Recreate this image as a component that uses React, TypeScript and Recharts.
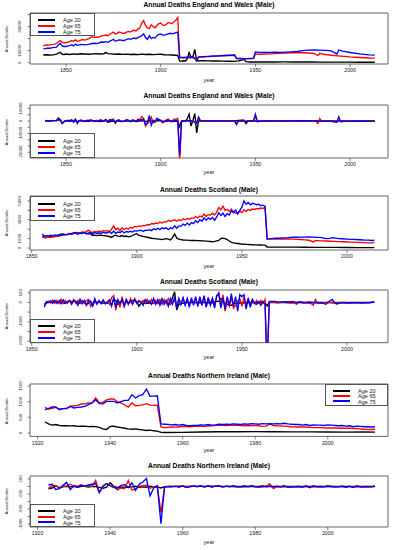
import { LineChart, Line, XAxis, YAxis, ReferenceArea } from "recharts";

type Pt = [number, number];

const FONT = '"Liberation Sans", Arial, Helvetica, sans-serif';
const AGES = ["Age 20", "Age 65", "Age 75"];
const COLORS = ["#000000", "#ff0000", "#0000ff"];

// ---- England and Wales: annual deaths ----
const ewAge20: Pt[] = [
  [1838, 6400], [1840, 6600], [1842, 6300], [1844, 6700], [1845, 7200], [1846, 8000], [1847, 8700], [1848, 7000],
  [1849, 6800], [1850, 7200], [1852, 6800], [1854, 7300], [1856, 7000], [1858, 7400], [1860, 7200], [1862, 7000],
  [1864, 7300], [1866, 7600], [1868, 7200], [1870, 7400], [1871, 8600], [1872, 7600], [1874, 7300], [1876, 7000],
  [1878, 7200], [1880, 6900], [1882, 7100], [1884, 6800], [1886, 7000], [1888, 6700], [1890, 7100], [1892, 6800],
  [1894, 7000], [1896, 6700], [1898, 6900], [1900, 7000], [1902, 6600], [1904, 6500], [1906, 6400], [1908, 6200],
  [1909, 6000], [1910, 1400], [1911, 1300], [1912, 1600], [1913, 1400], [1914, 3000], [1915, 8500], [1916, 4500],
  [1917, 5000], [1918, 11000], [1919, 1500], [1920, 1700], [1922, 1600], [1925, 1500], [1928, 1400], [1930, 1500],
  [1933, 1300], [1936, 1200], [1939, 1100], [1941, 1500], [1943, 2200], [1944, 2800], [1945, 800], [1947, 600],
  [1950, 600], [1955, 550], [1960, 600], [1965, 650], [1970, 600], [1975, 550], [1980, 550], [1985, 500],
  [1990, 450], [1995, 450], [2000, 400], [2005, 400], [2010, 350], [2013, 350],
];
const ewAge65: Pt[] = [
  [1838, 14000], [1839, 14500], [1840, 14800], [1841, 14600], [1842, 15000], [1843, 15200], [1844, 15500],
  [1845, 16000], [1846, 17500], [1847, 18500], [1848, 17000], [1849, 16500], [1850, 16800], [1851, 17200],
  [1852, 17500], [1853, 18500], [1854, 17800], [1855, 19000], [1856, 17800], [1857, 18200], [1858, 19000],
  [1859, 19200], [1860, 18800], [1861, 19500], [1862, 20000], [1863, 21000], [1864, 21500], [1865, 21000],
  [1866, 21500], [1867, 21000], [1868, 22000], [1869, 22500], [1870, 22500], [1871, 23000], [1872, 22500],
  [1873, 23500], [1874, 24500], [1875, 25500], [1876, 24000], [1877, 24500], [1878, 25500], [1879, 25000],
  [1880, 24500], [1881, 24500], [1882, 25500], [1883, 26000], [1884, 25500], [1885, 26500], [1886, 27000],
  [1887, 26500], [1888, 28000], [1889, 29000], [1890, 33000], [1891, 35000], [1892, 31000], [1893, 29000],
  [1894, 28500], [1895, 31500], [1896, 30000], [1897, 29000], [1898, 31000], [1899, 32500], [1900, 33000],
  [1901, 31500], [1902, 31000], [1903, 32000], [1904, 33500], [1905, 33000], [1906, 32500], [1907, 34000],
  [1908, 35500], [1909, 37500], [1910, 4200], [1912, 4000], [1914, 4100], [1916, 4300], [1918, 3800],
  [1919, 3200], [1920, 4600], [1922, 4700], [1925, 5000], [1928, 5300], [1930, 5500], [1933, 5700], [1936, 5900],
  [1939, 6200], [1940, 3400], [1942, 3300], [1945, 3200], [1948, 3400], [1949, 3500], [1950, 7300], [1952, 7000],
  [1955, 7100], [1958, 7300], [1960, 7500], [1963, 7800], [1966, 8000], [1969, 8300], [1972, 8400], [1975, 8300],
  [1978, 8100], [1981, 7700], [1983, 5800], [1984, 7800], [1986, 7000], [1990, 6200], [1995, 5500], [2000, 4800],
  [2005, 4300], [2010, 3900], [2013, 3800],
];
const ewAge75: Pt[] = [
  [1838, 11500], [1839, 11700], [1840, 12000], [1841, 12000], [1842, 12200], [1843, 12500], [1844, 12800],
  [1845, 13000], [1846, 15000], [1847, 16000], [1848, 14000], [1849, 13500], [1850, 13500], [1851, 14000],
  [1852, 14200], [1853, 15000], [1854, 14000], [1855, 15500], [1856, 14500], [1857, 14800], [1858, 15200],
  [1859, 15000], [1860, 14800], [1861, 15000], [1862, 15300], [1863, 15800], [1864, 16000], [1865, 16200],
  [1866, 16000], [1867, 16300], [1868, 16800], [1869, 17200], [1870, 17000], [1871, 17500], [1872, 17000],
  [1873, 17800], [1874, 18500], [1875, 19500], [1876, 18000], [1877, 18300], [1878, 19000], [1879, 18800],
  [1880, 18500], [1881, 18500], [1882, 19500], [1883, 20000], [1884, 19500], [1885, 20000], [1886, 20500],
  [1887, 20000], [1888, 21000], [1889, 21500], [1890, 22500], [1891, 24000], [1892, 21000], [1893, 19500],
  [1894, 22500], [1895, 20000], [1896, 21000], [1897, 20500], [1898, 22500], [1899, 23500], [1900, 24000],
  [1901, 23000], [1902, 23000], [1903, 23500], [1904, 24000], [1905, 24500], [1906, 24000], [1907, 24500],
  [1908, 25000], [1909, 25500], [1910, 4500], [1912, 4300], [1914, 4500], [1916, 4700], [1917, 4800],
  [1918, 3500], [1919, 1500], [1920, 4800], [1922, 5000], [1925, 5300], [1928, 5600], [1930, 5700], [1933, 6000],
  [1936, 6200], [1939, 6400], [1940, 3600], [1942, 3500], [1945, 3400], [1948, 3600], [1949, 3700], [1950, 9000],
  [1952, 8600], [1955, 8500], [1958, 8600], [1960, 8700], [1963, 8600], [1966, 8800], [1969, 9000], [1972, 9300],
  [1975, 10000], [1978, 10400], [1981, 10600], [1984, 10500], [1987, 10300], [1990, 9800], [1992, 8200],
  [1993, 7200], [1994, 10600], [1996, 9600], [2000, 8500], [2005, 7300], [2010, 6500], [2013, 6300],
];

// ---- England and Wales: year-on-year change ----
const ewDiff20: Pt[] = [
  [1839, 100], [1841, -200], [1843, 300], [1845, 500], [1846, 800], [1847, 700], [1848, -1700], [1849, -200],
  [1850, 400], [1852, -300], [1854, 400], [1856, -300], [1858, 300], [1860, -200], [1862, -200], [1864, 300],
  [1866, 300], [1868, -400], [1870, 200], [1871, 1200], [1872, -1000], [1874, -200], [1876, -300], [1878, 200],
  [1880, -300], [1882, 200], [1884, -300], [1886, 200], [1888, -300], [1890, 300], [1892, -300], [1894, 200],
  [1896, -300], [1898, 200], [1900, 100], [1902, -300], [1904, -100], [1906, -100], [1908, -200], [1909, -200],
  [1910, -4600], [1911, -100], [1912, 300], [1913, -200], [1914, 1600], [1915, 5500], [1916, -4000], [1917, 500],
  [1918, 6000], [1919, -9500], [1920, 200], [1922, -50], [1925, -30], [1928, -30], [1930, 50], [1933, -60],
  [1936, -30], [1939, -30], [1941, 400], [1943, 700], [1944, 600], [1945, -2000], [1946, -200], [1947, -100],
  [1950, 0], [1960, 20], [1970, -20], [1980, 0], [1990, -20], [2000, -10], [2013, 0],
];
const ewDiff65: Pt[] = [
  [1839, 500], [1840, 300], [1841, -200], [1842, 400], [1843, 200], [1844, 300], [1845, 500], [1846, 2500],
  [1847, 1000], [1848, -2000], [1849, -500], [1850, 300], [1851, 400], [1852, 300], [1853, 1000], [1854, -700],
  [1855, 1200], [1856, -1200], [1857, 400], [1858, 800], [1859, 200], [1860, -400], [1861, 700], [1862, 500],
  [1863, 1000], [1864, 500], [1865, -500], [1866, 500], [1867, -500], [1868, 1000], [1869, 500], [1870, 0],
  [1871, 500], [1872, -500], [1873, 1000], [1874, 1000], [1875, 1500], [1876, -1800], [1877, 500], [1878, 1000],
  [1879, -500], [1880, -500], [1881, 0], [1882, 1000], [1883, 500], [1884, -500], [1885, 1000], [1886, 500],
  [1887, -500], [1888, 1500], [1889, 1000], [1890, 3500], [1891, 2000], [1892, -4000], [1893, -2000], [1894, -500],
  [1895, 3000], [1896, -1500], [1897, -1000], [1898, 2000], [1899, 1500], [1900, 500], [1901, -1500], [1902, -500],
  [1903, 1000], [1904, 1500], [1905, -500], [1906, -500], [1907, 1500], [1908, 1500], [1909, 2000], [1910, -33300],
  [1911, -200], [1912, -100], [1913, 100], [1914, 100], [1915, 200], [1916, 100], [1917, -300], [1918, -500],
  [1919, -600], [1920, 1400], [1921, 100], [1923, 50], [1925, 100], [1927, 150], [1929, 100], [1931, 50],
  [1933, 100], [1935, 80], [1937, 100], [1939, 150], [1940, -1900], [1941, -100], [1943, -100], [1945, -50],
  [1947, 100], [1949, 100], [1950, 4000], [1951, -500], [1952, -200], [1954, -50], [1956, 50], [1958, 80],
  [1960, 100], [1962, 80], [1964, 60], [1966, 80], [1968, 100], [1970, 50], [1972, 30], [1974, -50], [1976, -80],
  [1978, -100], [1980, -150], [1982, -200], [1983, -2000], [1984, 2000], [1985, -500], [1986, -300], [1988, -200],
  [1990, -200], [1992, -150], [1994, -150], [1996, -120], [1998, -150], [2000, -100], [2002, -100], [2004, -80],
  [2006, -100], [2008, -80], [2010, -60], [2012, -40], [2013, -30],
];
const ewDiff75: Pt[] = [
  [1839, 200], [1840, 300], [1841, 0], [1842, 200], [1843, 300], [1844, 300], [1845, 200], [1846, 2000],
  [1847, 1000], [1848, -2000], [1849, -500], [1850, 0], [1851, 500], [1852, 200], [1853, 800], [1854, -1000],
  [1855, 1500], [1856, -2000], [1857, 300], [1858, 400], [1859, -200], [1860, -200], [1861, 200], [1862, 300],
  [1863, 500], [1864, 200], [1865, 200], [1866, -200], [1867, 300], [1868, 500], [1869, 400], [1870, -200],
  [1871, 500], [1872, -500], [1873, 800], [1874, 700], [1875, 1000], [1876, -1500], [1877, 300], [1878, 700],
  [1879, -200], [1880, -300], [1881, 0], [1882, 1000], [1883, 500], [1884, -500], [1885, 500], [1886, 500],
  [1887, -500], [1888, 1000], [1889, 500], [1890, 1000], [1891, 1500], [1892, -3000], [1893, -1500], [1894, 4500],
  [1895, -3500], [1896, 500], [1897, -500], [1898, 2000], [1899, 1000], [1900, 500], [1901, -1000], [1902, 0],
  [1903, 500], [1904, 500], [1905, 500], [1906, -500], [1907, 500], [1908, 500], [1909, 500], [1910, -27000],
  [1911, -200], [1912, -200], [1913, 200], [1914, 200], [1915, 200], [1916, 200], [1917, 100], [1918, -1300],
  [1919, -2000], [1920, 3300], [1921, 200], [1923, 100], [1925, 100], [1927, 150], [1929, 100], [1931, 100],
  [1933, 150], [1935, 100], [1937, 100], [1939, 100], [1940, -2800], [1941, -100], [1943, -50], [1945, -50],
  [1947, 100], [1949, 100], [1950, 5300], [1951, -400], [1952, -300], [1954, -50], [1956, 50], [1958, 50],
  [1960, 50], [1962, -50], [1964, 50], [1966, 100], [1968, 100], [1970, 100], [1972, 150], [1974, 300],
  [1976, 200], [1978, 100], [1980, 100], [1982, 0], [1984, -50], [1986, -100], [1988, -100], [1990, -200],
  [1992, -800], [1993, -1000], [1994, 3400], [1995, -600], [1996, -400], [1998, -300], [2000, -250], [2002, -250],
  [2004, -200], [2006, -200], [2008, -150], [2010, -100], [2012, -80], [2013, -50],
];

// ---- Scotland: annual deaths ----
const scAge20: Pt[] = [
  [1855, 1250], [1856, 1150], [1857, 1100], [1858, 1150], [1859, 1200], [1860, 1200], [1861, 1250], [1862, 1300],
  [1863, 1350], [1864, 1500], [1865, 1450], [1866, 1400], [1867, 1450], [1868, 1500], [1869, 1550], [1870, 1600],
  [1871, 1650], [1872, 1600], [1873, 1550], [1874, 1600], [1875, 1650], [1876, 1550], [1877, 1500], [1878, 1500],
  [1879, 1320], [1880, 1370], [1881, 1320], [1882, 1370], [1883, 1360], [1884, 1310], [1885, 1300], [1886, 1260],
  [1887, 1220], [1888, 1130], [1889, 1280], [1890, 1360], [1891, 1270], [1892, 1230], [1893, 1320], [1894, 1230],
  [1895, 1270], [1896, 1180], [1897, 1230], [1898, 1330], [1899, 1450], [1900, 1520], [1901, 1330], [1902, 1290],
  [1903, 1240], [1904, 1190], [1905, 1140], [1906, 1090], [1907, 1040], [1908, 990], [1909, 990], [1910, 950],
  [1911, 950], [1912, 900], [1913, 950], [1914, 1000], [1915, 950], [1916, 850], [1917, 1100], [1918, 1500],
  [1919, 1050], [1920, 950], [1921, 900], [1922, 850], [1923, 830], [1924, 830], [1925, 810], [1926, 800],
  [1927, 810], [1928, 800], [1929, 790], [1930, 770], [1931, 750], [1932, 750], [1933, 730], [1934, 710],
  [1935, 690], [1936, 670], [1937, 700], [1938, 750], [1939, 800], [1940, 1000], [1941, 1050], [1942, 1000],
  [1943, 900], [1944, 750], [1945, 600], [1946, 550], [1947, 500], [1948, 480], [1949, 450], [1950, 420],
  [1951, 400], [1952, 380], [1953, 370], [1954, 360], [1955, 350], [1956, 340], [1957, 330], [1958, 320],
  [1959, 320], [1960, 310], [1961, 300], [1962, 110], [1965, 100], [1970, 90], [1975, 90], [1980, 80], [1985, 70],
  [1990, 60], [1995, 60], [2000, 50], [2005, 45], [2010, 40], [2013, 40],
];
const scAge65: Pt[] = [
  [1855, 1200], [1856, 1080], [1857, 1100], [1858, 1150], [1859, 1120], [1860, 1250], [1861, 1200], [1862, 1300],
  [1863, 1250], [1864, 1400], [1865, 1350], [1866, 1450], [1867, 1400], [1868, 1500], [1869, 1450], [1870, 1600],
  [1871, 1550], [1872, 1650], [1873, 1600], [1874, 1700], [1875, 1650], [1876, 1750], [1877, 1900], [1878, 1700],
  [1879, 1650], [1880, 1750], [1881, 1700], [1882, 1800], [1883, 1750], [1884, 1850], [1885, 1800], [1886, 1850],
  [1887, 1750], [1888, 2000], [1889, 2350], [1890, 1950], [1891, 2100], [1892, 1850], [1893, 2150], [1894, 1950],
  [1895, 2100], [1896, 2000], [1897, 2200], [1898, 2100], [1899, 2300], [1900, 2250], [1901, 2350], [1902, 2300],
  [1903, 2400], [1904, 2350], [1905, 2500], [1906, 2450], [1907, 2600], [1908, 2550], [1909, 2650], [1910, 2600],
  [1911, 2750], [1912, 2650], [1913, 2800], [1914, 2750], [1915, 2950], [1916, 2850], [1917, 2900], [1918, 3000],
  [1919, 2850], [1920, 3000], [1921, 2900], [1922, 3100], [1923, 3000], [1924, 3150], [1925, 3050], [1926, 3200],
  [1927, 3150], [1928, 3350], [1929, 3200], [1930, 3400], [1931, 3300], [1932, 3600], [1933, 3350], [1934, 3550],
  [1935, 3500], [1936, 3700], [1937, 3500], [1938, 3800], [1939, 4300], [1940, 4050], [1941, 4450], [1942, 4000],
  [1943, 4100], [1944, 3900], [1945, 4150], [1946, 3850], [1947, 3700], [1948, 3750], [1949, 3950], [1950, 3750],
  [1951, 4050], [1952, 3900], [1953, 4100], [1954, 4000], [1955, 4150], [1956, 4100], [1957, 4200], [1958, 4150],
  [1959, 4250], [1960, 4200], [1961, 4350], [1962, 950], [1964, 960], [1966, 980], [1968, 950], [1970, 970],
  [1972, 960], [1974, 940], [1976, 920], [1978, 900], [1980, 860], [1982, 820], [1984, 650], [1985, 800],
  [1986, 790], [1988, 760], [1990, 740], [1992, 720], [1994, 700], [1996, 680], [1998, 660], [2000, 640],
  [2002, 620], [2004, 600], [2006, 590], [2008, 570], [2010, 550], [2012, 540], [2013, 580],
];
const scAge75: Pt[] = [
  [1855, 1500], [1856, 1250], [1857, 1300], [1858, 1280], [1859, 1350], [1860, 1300], [1861, 1400], [1862, 1350],
  [1863, 1420], [1864, 1350], [1865, 1480], [1866, 1420], [1867, 1450], [1868, 1550], [1869, 1450], [1870, 1550],
  [1871, 1600], [1872, 1450], [1873, 1620], [1874, 1550], [1875, 1650], [1876, 1500], [1877, 1600], [1878, 1650],
  [1879, 1450], [1880, 1650], [1881, 1550], [1882, 1620], [1883, 1550], [1884, 1680], [1885, 1600], [1886, 1620],
  [1887, 1750], [1888, 1550], [1889, 1800], [1890, 1550], [1891, 1700], [1892, 1650], [1893, 1800], [1894, 1600],
  [1895, 1750], [1896, 1700], [1897, 1780], [1898, 1700], [1899, 1850], [1900, 1800], [1901, 1850], [1902, 1900],
  [1903, 1750], [1904, 1900], [1905, 1880], [1906, 1950], [1907, 1850], [1908, 2050], [1909, 1950], [1910, 2100],
  [1911, 1950], [1912, 2150], [1913, 2050], [1914, 2150], [1915, 1950], [1916, 2150], [1917, 2050], [1918, 2350],
  [1919, 2100], [1920, 2350], [1921, 2300], [1922, 2550], [1923, 2400], [1924, 2650], [1925, 2450], [1926, 2700],
  [1927, 2600], [1928, 2900], [1929, 2700], [1930, 3000], [1931, 2850], [1932, 3200], [1933, 2950], [1934, 3200],
  [1935, 3050], [1936, 3250], [1937, 2950], [1938, 3300], [1939, 3750], [1940, 3450], [1941, 3700], [1942, 3350],
  [1943, 3650], [1944, 3500], [1945, 3950], [1946, 3750], [1947, 4050], [1948, 3600], [1949, 4000], [1950, 4350],
  [1951, 5000], [1952, 4650], [1953, 4850], [1954, 4600], [1955, 4750], [1956, 4700], [1957, 4600], [1958, 4650],
  [1959, 4500], [1960, 4550], [1961, 4450], [1962, 950], [1964, 1000], [1966, 1050], [1968, 1040], [1970, 1080],
  [1972, 1100], [1974, 1150], [1976, 1140], [1978, 1160], [1980, 1150], [1982, 1170], [1984, 1150], [1986, 1130],
  [1988, 1100], [1990, 1000], [1992, 1020], [1993, 1100], [1994, 1080], [1996, 1000], [1998, 980], [2000, 950],
  [2002, 920], [2004, 900], [2006, 880], [2008, 850], [2010, 830], [2012, 800], [2013, 820],
];

// ---- Scotland: year-on-year change ----
const scDiff20: Pt[] = [
  [1856, -100], [1857, -50], [1858, 50], [1859, 50], [1860, 0], [1861, 50], [1862, 50], [1863, 50], [1864, 150],
  [1865, -50], [1866, -50], [1867, 50], [1868, 50], [1869, 50], [1870, 50], [1871, 50], [1872, -50], [1873, -50],
  [1874, 50], [1875, 50], [1876, -100], [1877, -50], [1878, 50], [1879, -150], [1880, 50], [1881, -50], [1882, 50],
  [1883, 0], [1884, -50], [1885, 0], [1886, -50], [1887, -50], [1888, -100], [1889, 150], [1890, 100], [1891, -100],
  [1892, -50], [1893, 100], [1894, -100], [1895, 50], [1896, -100], [1897, 50], [1898, 100], [1899, 100],
  [1900, 50], [1901, -200], [1902, -50], [1903, -50], [1904, -50], [1905, -50], [1906, -50], [1907, -50],
  [1908, -50], [1909, 0], [1910, -50], [1911, 0], [1912, -50], [1913, 50], [1914, 50], [1915, -50], [1916, -100],
  [1917, 250], [1918, 550], [1919, -400], [1920, -100], [1921, -50], [1922, -50], [1923, -20], [1924, 0],
  [1925, -20], [1926, -10], [1927, 10], [1928, -10], [1929, -10], [1930, -20], [1931, -20], [1932, 0], [1933, -20],
  [1934, -20], [1935, -20], [1936, -20], [1937, 30], [1938, 50], [1939, 50], [1940, 200], [1941, 50], [1942, -50],
  [1943, -100], [1944, -150], [1945, -150], [1946, -50], [1947, -50], [1948, -20], [1949, -30], [1950, -30],
  [1951, -20], [1952, -20], [1953, -10], [1954, -10], [1955, -10], [1956, -10], [1957, -10], [1958, -10],
  [1959, 0], [1960, -10], [1961, -10], [1962, -180], [1963, -5], [1970, 5], [1980, -5], [1990, 0], [2000, -5],
  [2013, 0],
];
const scDiff65: Pt[] = [
  [1856, -120], [1857, 20], [1858, 50], [1859, -30], [1860, 130], [1861, -50], [1862, 100], [1863, -50],
  [1864, 150], [1865, -50], [1866, 100], [1867, -50], [1868, 100], [1869, -50], [1870, 150], [1871, -50],
  [1872, 100], [1873, -50], [1874, 100], [1875, -50], [1876, 100], [1877, 150], [1878, -200], [1879, -50],
  [1880, 100], [1881, -50], [1882, 100], [1883, -50], [1884, 100], [1885, -50], [1886, 50], [1887, -100],
  [1888, 250], [1889, 350], [1890, -400], [1891, 150], [1892, -250], [1893, 300], [1894, -200], [1895, 150],
  [1896, -100], [1897, 200], [1898, -100], [1899, 200], [1900, -50], [1901, 100], [1902, -50], [1903, 100],
  [1904, -50], [1905, 150], [1906, -50], [1907, 150], [1908, -50], [1909, 100], [1910, -50], [1911, 150],
  [1912, -100], [1913, 150], [1914, -50], [1915, 200], [1916, -100], [1917, 50], [1918, 100], [1919, -150],
  [1920, 150], [1921, -100], [1922, 200], [1923, -100], [1924, 150], [1925, -100], [1926, 150], [1927, -50],
  [1928, 200], [1929, -150], [1930, 200], [1931, -100], [1932, 300], [1933, -250], [1934, 200], [1935, -50],
  [1936, 200], [1937, -200], [1938, 300], [1939, 500], [1940, -250], [1941, 400], [1942, -450], [1943, 100],
  [1944, -200], [1945, 250], [1946, -300], [1947, -150], [1948, 50], [1949, 200], [1950, -200], [1951, 300],
  [1952, -150], [1953, 200], [1954, -100], [1955, 150], [1956, -50], [1957, 100], [1958, -50], [1959, 100],
  [1960, -50], [1961, 150], [1962, -3400], [1963, 10], [1965, 20], [1967, -20], [1969, 30], [1971, -10],
  [1973, -30], [1975, -20], [1976, -100], [1977, 20], [1979, -30], [1981, -40], [1983, -60], [1984, -150],
  [1985, 150], [1986, -30], [1988, -40], [1990, -20], [1992, -20], [1994, -30], [1996, -20], [1998, -20],
  [2000, -20], [2002, -20], [2004, -10], [2006, -20], [2008, -10], [2010, -20], [2012, 30], [2013, 40],
];
const scDiff75: Pt[] = [
  [1856, -250], [1857, 50], [1858, -20], [1859, 70], [1860, -50], [1861, 100], [1862, -50], [1863, 70],
  [1864, -70], [1865, 130], [1866, -60], [1867, 30], [1868, 100], [1869, -100], [1870, 100], [1871, 50],
  [1872, -150], [1873, 170], [1874, -70], [1875, 100], [1876, -150], [1877, 100], [1878, 50], [1879, -200],
  [1880, 200], [1881, -100], [1882, 70], [1883, -70], [1884, 130], [1885, -80], [1886, 20], [1887, 130],
  [1888, -200], [1889, 250], [1890, -250], [1891, 150], [1892, -50], [1893, 150], [1894, -200], [1895, 150],
  [1896, -50], [1897, 80], [1898, -80], [1899, 150], [1900, -50], [1901, 50], [1902, 50], [1903, -150],
  [1904, 150], [1905, -20], [1906, 70], [1907, -100], [1908, 200], [1909, -100], [1910, 150], [1911, -150],
  [1912, 200], [1913, -100], [1914, 100], [1915, -200], [1916, 200], [1917, -100], [1918, 300], [1919, -300],
  [1920, 200], [1921, -100], [1922, 250], [1923, -150], [1924, 200], [1925, -250], [1926, 250], [1927, -150],
  [1928, 300], [1929, -200], [1930, 300], [1931, -150], [1932, 350], [1933, -250], [1934, 250], [1935, -150],
  [1936, 200], [1937, -300], [1938, 350], [1939, 450], [1940, -300], [1941, 250], [1942, -350], [1943, 300],
  [1944, -150], [1945, 450], [1946, -200], [1947, 300], [1948, -450], [1949, 400], [1950, 300], [1951, 400],
  [1952, -350], [1953, 200], [1954, -250], [1955, 150], [1956, -50], [1957, -100], [1958, 50], [1959, -150],
  [1960, 50], [1961, -100], [1962, -3500], [1963, 50], [1964, 50], [1966, 50], [1968, -10], [1970, 40],
  [1972, 20], [1974, 50], [1976, -20], [1978, 20], [1980, -10], [1982, 20], [1984, -20], [1986, -20], [1988, -30],
  [1990, -100], [1991, 20], [1993, 150], [1994, -20], [1995, -80], [1997, -20], [1999, -20], [2001, -30],
  [2003, -20], [2005, -20], [2007, -30], [2009, -20], [2011, -20], [2013, 20],
];

// ---- Northern Ireland: annual deaths ----
const niAge20: Pt[] = [
  [1922, 351], [1923, 290], [1924, 250], [1925, 270], [1926, 240], [1927, 230], [1928, 235], [1929, 225],
  [1930, 230], [1931, 210], [1932, 215], [1933, 220], [1934, 205], [1935, 210], [1936, 205], [1937, 180],
  [1938, 130], [1939, 110], [1940, 210], [1941, 215], [1942, 190], [1943, 170], [1944, 150], [1945, 130],
  [1946, 120], [1947, 130], [1948, 110], [1949, 100], [1950, 80], [1951, 90], [1952, 70], [1953, 60], [1954, 20],
  [1955, 15], [1960, 20], [1965, 30], [1970, 40], [1975, 40], [1980, 45], [1985, 40], [1990, 35], [1995, 35],
  [2000, 30], [2005, 25], [2010, 30], [2013, 25],
];
const niAge65: Pt[] = [
  [1922, 820], [1923, 766], [1924, 790], [1925, 818], [1926, 766], [1927, 780], [1928, 790], [1929, 850],
  [1930, 870], [1931, 882], [1932, 926], [1933, 930], [1934, 958], [1935, 960], [1936, 1118], [1937, 958],
  [1938, 978], [1939, 1060], [1940, 1086], [1941, 1090], [1942, 1000], [1943, 958], [1944, 900], [1945, 829],
  [1946, 958], [1947, 872], [1948, 880], [1949, 900], [1950, 936], [1951, 890], [1952, 880], [1953, 890],
  [1954, 192], [1955, 170], [1956, 180], [1957, 190], [1958, 185], [1959, 200], [1960, 210], [1962, 200],
  [1964, 220], [1966, 210], [1968, 230], [1970, 250], [1972, 240], [1974, 250], [1976, 240], [1978, 230],
  [1980, 240], [1982, 210], [1983, 220], [1984, 290], [1985, 240], [1986, 230], [1988, 220], [1990, 200],
  [1992, 190], [1994, 190], [1996, 170], [1998, 170], [2000, 160], [2002, 160], [2004, 150], [2006, 150],
  [2008, 140], [2010, 120], [2012, 110], [2013, 120],
];
const niAge75: Pt[] = [
  [1922, 744], [1923, 780], [1924, 830], [1925, 830], [1926, 744], [1927, 776], [1928, 780], [1929, 850],
  [1930, 798], [1931, 820], [1932, 830], [1933, 850], [1934, 904], [1935, 958], [1936, 1064], [1937, 936],
  [1938, 930], [1939, 1010], [1940, 1010], [1941, 1010], [1942, 958], [1943, 1000], [1944, 1042], [1945, 1040],
  [1946, 1224], [1947, 1118], [1948, 1192], [1949, 1224], [1950, 1405], [1951, 1170], [1952, 1180], [1953, 1190],
  [1954, 288], [1955, 280], [1956, 270], [1957, 260], [1958, 270], [1959, 250], [1960, 270], [1961, 240],
  [1962, 230], [1963, 240], [1964, 240], [1965, 260], [1966, 250], [1967, 270], [1968, 250], [1969, 260],
  [1970, 280], [1971, 270], [1972, 280], [1973, 270], [1974, 290], [1975, 280], [1976, 270], [1977, 290],
  [1978, 280], [1979, 300], [1980, 290], [1981, 280], [1982, 300], [1983, 290], [1984, 300], [1985, 290],
  [1986, 300], [1987, 290], [1988, 310], [1989, 290], [1990, 280], [1991, 270], [1992, 270], [1993, 250],
  [1994, 270], [1995, 240], [1996, 260], [1997, 250], [1998, 250], [1999, 240], [2000, 260], [2001, 250],
  [2002, 240], [2003, 230], [2004, 240], [2005, 220], [2006, 230], [2007, 200], [2008, 220], [2009, 210],
  [2010, 200], [2011, 200], [2012, 190], [2013, 200],
];

// ---- Northern Ireland: year-on-year change ----
const niDiff20: Pt[] = [
  [1923, -60], [1924, -40], [1925, 20], [1926, -30], [1927, -10], [1928, 5], [1929, -10], [1930, 5], [1931, -20],
  [1932, 5], [1933, 5], [1934, -15], [1935, 5], [1936, -5], [1937, -25], [1938, -50], [1939, -20], [1940, 100],
  [1941, 5], [1942, -25], [1943, -20], [1944, -20], [1945, -20], [1946, -10], [1947, 10], [1948, -20], [1949, -10],
  [1950, -20], [1951, 10], [1952, -20], [1953, -10], [1954, -40], [1955, -5], [1960, 2], [1965, 2], [1970, 2],
  [1975, 0], [1980, 1], [1985, -1], [1990, -1], [1995, 0], [2000, -1], [2005, -1], [2010, 1], [2013, -1],
];
const niDiff65: Pt[] = [
  [1923, -50], [1924, 25], [1925, 30], [1926, -50], [1927, 15], [1928, 10], [1929, 60], [1930, 20], [1931, 10],
  [1932, 45], [1933, 5], [1934, 30], [1935, 0], [1936, 160], [1937, -160], [1938, 20], [1939, 80], [1940, 25],
  [1941, 5], [1942, -90], [1943, -40], [1944, -60], [1945, 160], [1946, -90], [1947, -70], [1948, 10], [1949, 20],
  [1950, 35], [1951, -45], [1952, -10], [1953, 10], [1954, -700], [1955, -20], [1956, 10], [1957, 10], [1958, -5],
  [1959, 15], [1960, 10], [1961, -20], [1962, 10], [1963, 20], [1964, -10], [1965, 15], [1966, -20], [1967, 20],
  [1968, 10], [1969, 10], [1970, 10], [1971, -15], [1972, 5], [1973, 10], [1974, -5], [1975, -10], [1976, -5],
  [1977, -10], [1978, 5], [1979, 10], [1980, -5], [1981, -20], [1982, -10], [1983, 10], [1984, 70], [1985, -50],
  [1986, -10], [1987, -5], [1988, -10], [1989, 5], [1990, -15], [1991, -5], [1992, 0], [1993, -5], [1994, 5],
  [1995, -10], [1996, -10], [1997, 5], [1998, -5], [1999, -5], [2000, -5], [2001, 10], [2002, -10], [2003, -5],
  [2004, 0], [2005, -10], [2006, 5], [2007, -10], [2008, -5], [2009, -10], [2010, -10], [2011, -5], [2012, -5],
  [2013, 10],
];
const niDiff75: Pt[] = [
  [1923, 40], [1924, 60], [1925, -80], [1926, -60], [1927, 30], [1928, 110], [1929, -80], [1930, 20], [1931, -20],
  [1932, 30], [1933, 10], [1934, 40], [1935, 60], [1936, 80], [1937, -160], [1938, -10], [1939, 80], [1940, 20],
  [1941, -30], [1942, -50], [1943, 30], [1944, 50], [1945, -30], [1946, 100], [1947, -100], [1948, 60],
  [1949, 120], [1950, 210], [1951, -250], [1952, -40], [1953, 20], [1954, -990], [1955, -10], [1956, -10],
  [1957, -10], [1958, 10], [1959, -20], [1960, 20], [1961, -30], [1962, -10], [1963, 10], [1964, 0], [1965, 20],
  [1966, -10], [1967, 20], [1968, -20], [1969, 10], [1970, 20], [1971, -10], [1972, 10], [1973, -10], [1974, 20],
  [1975, -10], [1976, -10], [1977, 20], [1978, -10], [1979, 20], [1980, -10], [1981, -10], [1982, 20],
  [1983, -10], [1984, 10], [1985, -10], [1986, 10], [1987, -10], [1988, 20], [1989, -20], [1990, -10],
  [1991, -10], [1992, 0], [1993, -20], [1994, 20], [1995, -30], [1996, 20], [1997, -10], [1998, 0], [1999, -10],
  [2000, 20], [2001, -10], [2002, -10], [2003, -10], [2004, 10], [2005, -20], [2006, 10], [2007, -30], [2008, 20],
  [2009, -10], [2010, -10], [2011, 0], [2012, -10], [2013, 10],
];

const EW_TICKS = [1850, 1900, 1950, 2000];
const NI_TICKS = [1920, 1940, 1960, 1980, 2000];

type Box = { left: number; top: number; width: number; height: number };
type PanelCfg = {
  title: string;
  titleY: number;
  boxTop: number;
  boxBottom: number;
  yearY: number;
  xDomain: [number, number];
  xTicks: number[];
  yDomain: [number, number];
  yTicks: number[];
  yLabels: number[];
  series: Pt[][];
  legend: Box;
};

const PANELS: PanelCfg[] = [
  {
    title: "Annual Deaths England and Wales (Male)", titleY: 5, boxTop: 13, boxBottom: 64, yearY: 80,
    xDomain: [1831, 2020], xTicks: EW_TICKS, yDomain: [-1100, 41400],
    yTicks: [0, 10000, 20000, 30000, 40000], yLabels: [0, 10000, 30000],
    series: [ewAge20, ewAge65, ewAge75], legend: { left: 30, top: 13, width: 65, height: 23 },
  },
  {
    title: "Annual Deaths England and Wales (Male)", titleY: 96, boxTop: 105, boxBottom: 158, yearY: 171.5,
    xDomain: [1831, 2020], xTicks: EW_TICKS, yDomain: [-29600, 12800],
    yTicks: [-25000, -20000, -15000, -10000, -5000, 0, 5000, 10000], yLabels: [-25000, -10000, 0, 10000],
    series: [ewDiff20, ewDiff65, ewDiff75], legend: { left: 30, top: 133, width: 65, height: 25 },
  },
  {
    title: "Annual Deaths Scotland (Male)", titleY: 190, boxTop: 196, boxBottom: 250, yearY: 266,
    xDomain: [1849.2, 2019.5], xTicks: EW_TICKS, yDomain: [-213, 5530],
    yTicks: [0, 1000, 2000, 3000, 4000, 5000], yLabels: [0, 1000, 3000, 5000],
    series: [scAge20, scAge65, scAge75], legend: { left: 30, top: 196, width: 65, height: 25 },
  },
  {
    title: "Annual Deaths Scotland (Male)", titleY: 281.7, boxTop: 290, boxBottom: 342.7, yearY: 356.7,
    xDomain: [1849.2, 2019.5], xTicks: EW_TICKS, yDomain: [-2080, 640],
    yTicks: [-2000, -1500, -1000, -500, 0, 500], yLabels: [-2000, -1000, 0, 500],
    series: [scDiff20, scDiff65, scDiff75], legend: { left: 30, top: 319, width: 65, height: 23.7 },
  },
  {
    title: "Annual Deaths Northern Ireland (Male)", titleY: 375.7, boxTop: 384.3, boxBottom: 436.7, yearY: 450,
    xDomain: [1917.9, 2016.6], xTicks: NI_TICKS, yDomain: [-109, 1565],
    yTicks: [0, 500, 1000, 1500], yLabels: [0, 500, 1000, 1500],
    series: [niAge20, niAge65, niAge75], legend: { left: 325, top: 384.3, width: 63, height: 21.4 },
  },
  {
    title: "Annual Deaths Northern Ireland (Male)", titleY: 466, boxTop: 475.7, boxBottom: 526.7, yearY: 541.7,
    xDomain: [1917.9, 2016.6], xTicks: NI_TICKS, yDomain: [-1080, 280],
    yTicks: [-1000, -800, -600, -400, -200, 0, 200], yLabels: [-1000, -600, -200, 200],
    series: [niDiff20, niDiff65, niDiff75], legend: { left: 30, top: 504.3, width: 65, height: 22.4 },
  },
];

const PAD_TOP = 20;
const AXIS_H = 26;
const WIDTH = 394;
const PLOT_LEFT = 30;
const PLOT_RIGHT = 388;

const toRows = (pts: Pt[]) => pts.map(([year, v]) => ({ year, v }));

function YTick(props: any) {
  const { y, payload, labels } = props;
  if (!labels.includes(payload.value)) return <g />;
  const x = 21.5;
  return (
    <text x={x} y={y} transform={`rotate(-90 ${x} ${y})`} textAnchor="middle" fontSize={4.3} fill="#222" fontFamily={FONT}>
      {payload.value}
    </text>
  );
}

function Legend({ box }: { box: Box }) {
  const rows = [0.27, 0.52, 0.77];
  return (
    <div
      style={{
        position: "absolute", left: box.left, top: box.top, width: box.width, height: box.height,
        border: "0.8px solid #555", boxSizing: "border-box", background: "#fff",
      }}
    >
      {AGES.map((age, i) => (
        <div key={age}>
          <div
            style={{
              position: "absolute", left: 7, width: 17, top: Math.round(box.height * rows[i]) - 1, height: 1.5,
              background: COLORS[i],
            }}
          />
          <div
            style={{
              position: "absolute", left: 32, top: box.height * rows[i] - 4, fontSize: 5.6, lineHeight: "8px",
              fontFamily: FONT, color: "#222", whiteSpace: "nowrap",
            }}
          >
            {age}
          </div>
        </div>
      ))}
    </div>
  );
}

function Panel({ p }: { p: PanelCfg }) {
  const plotH = p.boxBottom - p.boxTop;
  const h = PAD_TOP + plotH + AXIS_H;
  const cx = (PLOT_LEFT + PLOT_RIGHT) / 2;

  return (
    <>
      <div style={{ position: "absolute", left: 0, top: p.boxTop - PAD_TOP, width: WIDTH, height: h }}>
        <LineChart width={WIDTH} height={h} margin={{ top: PAD_TOP, right: WIDTH - PLOT_RIGHT, bottom: 0, left: 0 }}>
          <XAxis
            type="number"
            dataKey="year"
            domain={p.xDomain}
            ticks={p.xTicks}
            interval={0}
            allowDataOverflow
            height={AXIS_H}
            axisLine={false}
            tickSize={3}
            tickMargin={1.5}
            tickLine={{ stroke: "#333", strokeWidth: 0.6 }}
            tick={{ fontSize: 5.3, fill: "#222", fontFamily: FONT }}
          />
          <YAxis
            type="number"
            domain={p.yDomain}
            ticks={p.yTicks}
            interval={0}
            allowDataOverflow
            width={PLOT_LEFT}
            axisLine={false}
            tickSize={2.5}
            tickLine={{ stroke: "#333", strokeWidth: 0.6 }}
            tick={(props: any) => <YTick {...props} labels={p.yLabels} />}
          />
          {p.series.map((s, i) => (
            <Line
              key={AGES[i]}
              data={toRows(s)}
              dataKey="v"
              type="linear"
              stroke={COLORS[i]}
              strokeWidth={1.35}
              dot={false}
              activeDot={false}
              isAnimationActive={false}
            />
          ))}
          <ReferenceArea
            x1={p.xDomain[0]}
            x2={p.xDomain[1]}
            y1={p.yDomain[0]}
            y2={p.yDomain[1]}
            fill="none"
            stroke="#555"
            strokeWidth={0.9}
          />
        </LineChart>
      </div>
      <div
        style={{
          position: "absolute", left: cx - 150, width: 300, top: p.titleY - 5, height: 10, lineHeight: "10px",
          textAlign: "center", fontSize: 6.7, fontWeight: "bold", fontFamily: FONT, color: "#000",
        }}
      >
        {p.title}
      </div>
      <div
        style={{
          position: "absolute", left: cx - 30, width: 60, top: p.yearY - 4, height: 8, lineHeight: "8px",
          textAlign: "center", fontSize: 5.6, fontFamily: FONT, color: "#222",
        }}
      >
        year
      </div>
      <div
        style={{
          position: "absolute", left: 7 - 30, width: 60, top: (p.boxTop + p.boxBottom) / 2 - 3, height: 6,
          lineHeight: "6px", textAlign: "center", fontSize: 4, fontFamily: FONT, color: "#222",
          transform: "rotate(-90deg)",
        }}
      >
        Annual Deaths
      </div>
      <Legend box={p.legend} />
    </>
  );
}

export default function App() {
  return (
    <div style={{ position: "absolute", left: 0, top: 0, width: WIDTH, height: 550, background: "#fff", overflow: "hidden" }}>
      {PANELS.map((p, i) => (
        <Panel key={i} p={p} />
      ))}
    </div>
  );
}
